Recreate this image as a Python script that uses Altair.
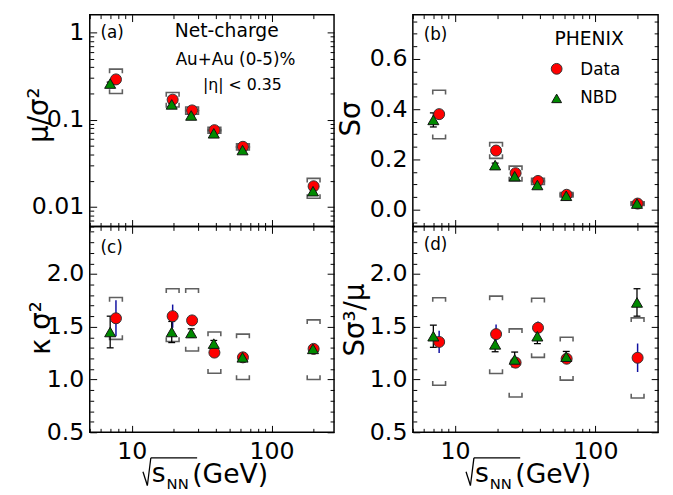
import altair as alt
import pandas as pd

# ---------------- data ----------------
energy = [7.7, 19.6, 27.0, 39.0, 62.4, 200.0]
energy_nbd = [7.0, 19.3, 26.6, 38.6, 62.0, 198.0]

# (a) mu / sigma^2
a_data = [0.29, 0.17, 0.128, 0.076, 0.049, 0.0173]
a_data_err = [0.012, 0.006, 0.004, 0.002, 0.0012, 0.0008]
a_nbd = [0.26, 0.15, 0.112, 0.070, 0.045, 0.0152]
a_nbd_err = [0.01, 0.005, 0.003, 0.002, 0.001, 0.0006]
a_sys_lo = [0.20, 0.14, 0.116, 0.070, 0.045, 0.0126]
a_sys_hi = [0.38, 0.205, 0.140, 0.082, 0.053, 0.0213]

# (b) S sigma
b_data = [0.38, 0.235, 0.145, 0.114, 0.059, 0.024]
b_data_err = [0.02, 0.01, 0.008, 0.006, 0.004, 0.004]
b_nbd = [0.357, 0.177, 0.133, 0.098, 0.055, 0.024]
b_nbd_err = [0.028, 0.008, 0.006, 0.005, 0.003, 0.003]
b_sys_lo = [0.282, 0.204, 0.114, 0.100, 0.050, 0.018]
b_sys_hi = [0.475, 0.267, 0.173, 0.125, 0.068, 0.030]

# (c) kappa sigma^2
c_data = [1.58, 1.60, 1.56, 1.255, 1.21, 1.29]
c_data_err = [0.17, 0.11, 0.05, 0.04, 0.03, 0.03]
c_nbd = [1.45, 1.45, 1.44, 1.34, 1.21, 1.29]
c_nbd_err = [0.15, 0.10, 0.04, 0.03, 0.02, 0.02]
c_sys_lo = [1.38, 1.36, 1.27, 1.06, 1.00, 1.00]
c_sys_hi = [1.777, 1.86, 1.86, 1.45, 1.43, 1.565]

# (d) S sigma^3 / mu
d_data = [1.356, 1.43, 1.16, 1.49, 1.197, 1.206]
d_data_err = [0.105, 0.09, 0.05, 0.06, 0.05, 0.135]
d_nbd = [1.41, 1.333, 1.19, 1.41, 1.216, 1.73]
d_nbd_err = [0.105, 0.07, 0.07, 0.07, 0.05, 0.13]
d_sys_lo = [0.946, 1.057, 0.835, 1.21, 0.994, 0.825]
d_sys_hi = [1.775, 1.79, 1.48, 1.77, 1.40, 1.584]

x_domain = [5, 280]
x_major = [10, 100]
x_minor = [5, 6, 7, 8, 9, 20, 30, 40, 50, 60, 70, 80, 90, 200]

FONT = "DejaVu Sans"
RED = "#ff0000"
GREEN = "#008a00"
TOP_CAP = "M-1,0.65L-1,0L1,0L1,0.65"
BOT_CAP = "M-1,-0.65L-1,0L1,0L1,-0.65"
HCAP = "M-1,0L1,0"
ONE = pd.DataFrame({"k": [0]})


def frame(d, de, n, ne, slo, shi):
    return pd.DataFrame({
        "x": energy, "xn": energy_nbd,
        "d": d, "d_lo": [v - e for v, e in zip(d, de)], "d_hi": [v + e for v, e in zip(d, de)],
        "n": n, "n_lo": [v - e for v, e in zip(n, ne)], "n_hi": [v + e for v, e in zip(n, ne)],
        "s_lo": slo, "s_hi": shi,
    })


def txt(s, x, y, size, align="left", baseline="middle", angle=0):
    kw = dict(text=s, fontSize=size, align=align, baseline=baseline, font=FONT, color="black")
    if angle:
        kw["angle"] = angle
    return alt.Chart(ONE).mark_text(**kw).encode(x=alt.value(x), y=alt.value(y))


def seg(x1, y1, x2, y2):
    return alt.Chart(ONE).mark_rule(color="black", strokeWidth=1.3).encode(
        x=alt.value(x1), y=alt.value(y1), x2=alt.value(x2), y2=alt.value(y2))


AX = dict(grid=False, domain=False, tickColor="black", tickWidth=1, labelFont=FONT,
          labelFontSize=24, labelColor="black", title=None, labelFlush=False, labelOverlap=False)

MAJ, MIN = 7, 4


def panel(df, ydom, ylog, ymaj, ymin, yfmt, w, h, xlabels, extras):
    xs = alt.Scale(type="log", domain=x_domain, nice=False)
    if ylog:
        ys = alt.Scale(type="log", domain=ydom, nice=False)
    else:
        ys = alt.Scale(type="linear", domain=ydom, nice=False, zero=False)
    base = alt.Chart(df)
    X = alt.X("x:Q", scale=xs, axis=None)
    XN = alt.X("xn:Q", scale=xs, axis=None)

    def Y(f):
        return alt.Y(f + ":Q", scale=ys, axis=None)

    layers = []
    # axis layers (inward ticks on all four sides)
    specs = [
        (dict(orient="bottom", values=x_major, tickSize=MAJ, offset=-MAJ, labels=xlabels, format="~g",
              labelPadding=8),
         dict(orient="left", values=ymaj, tickSize=MAJ, offset=-MAJ, format=yfmt, labelPadding=6)),
        (dict(orient="bottom", values=x_minor, tickSize=MIN, offset=-MIN, labels=False),
         dict(orient="left", values=ymin, tickSize=MIN, offset=-MIN, labels=False)),
        (dict(orient="top", values=x_major, tickSize=MAJ, offset=-MAJ, labels=False),
         dict(orient="right", values=ymaj, tickSize=MAJ, offset=-MAJ, labels=False)),
        (dict(orient="top", values=x_minor, tickSize=MIN, offset=-MIN, labels=False),
         dict(orient="right", values=ymin, tickSize=MIN, offset=-MIN, labels=False)),
    ]
    for xa, ya in specs:
        layers.append(base.mark_point(opacity=0).encode(
            x=alt.X("x:Q", scale=xs, axis=alt.Axis(**xa, **AX)),
            y=alt.Y("d:Q", scale=ys, axis=alt.Axis(**ya, **AX))))

    # systematic brackets
    layers.append(base.mark_point(shape=TOP_CAP, filled=False, size=169, color="#606060",
                                  strokeWidth=1.6, opacity=1).encode(x=X, y=Y("s_hi")))
    layers.append(base.mark_point(shape=BOT_CAP, filled=False, size=169, color="#606060",
                                  strokeWidth=1.6, opacity=1).encode(x=X, y=Y("s_lo")))
    # statistical errors
    layers.append(base.mark_rule(color="#1010a0", strokeWidth=1.5).encode(x=X, y=Y("d_lo"), y2="d_hi"))
    layers.append(base.mark_rule(color="black", strokeWidth=1.3).encode(x=XN, y=Y("n_lo"), y2="n_hi"))
    for f in ["n_lo", "n_hi"]:
        layers.append(base.mark_point(shape=HCAP, filled=False, size=49, color="black",
                                      strokeWidth=1.3, opacity=1).encode(x=XN, y=Y(f)))
    # markers
    layers.append(base.mark_point(shape="circle", filled=True, fill=RED, stroke="#333333",
                                  strokeWidth=1, size=125, opacity=1).encode(x=X, y=Y("d")))
    layers.append(base.mark_point(shape="triangle-up", filled=True, fill=GREEN, stroke="#111111",
                                  strokeWidth=1, size=125, opacity=1).encode(x=XN, y=Y("n")))
    layers += extras
    return alt.layer(*layers).properties(width=w, height=h).resolve_axis(x="independent", y="independent")


def xtitle():
    return [
        seg(54, 249, 58.5, 263),
        seg(58.5, 263, 62, 235),
        seg(62, 235, 109, 235),
        txt("s", 63, 259, 27, baseline="alphabetic"),
        txt("NN", 78, 267, 15, baseline="alphabetic"),
        txt("(GeV)", 104, 260, 27, baseline="alphabetic"),
    ]


log_minor = [0.006, 0.007, 0.008, 0.009] + [k / 100 for k in range(2, 10)] + [k / 10 for k in range(2, 10)]
lin_b_minor = [v / 100 for v in range(-5, 78, 5) if v % 20 != 0]
lin_cd_minor = [v / 10 for v in range(5, 25) if v % 5 != 0]

pa = panel(frame(a_data, a_data_err, a_nbd, a_nbd_err, a_sys_lo, a_sys_hi),
           [0.006, 1.6], True, [0.01, 0.1, 1], log_minor, "~g", 248, 215, False,
           [txt("(a)", 11, 19, 17), txt("Net-charge", 139, 17, 19, align="center"),
            txt("Au+Au (0-5)%", 148, 46, 17, align="center"),
            txt("|\u03b7| < 0.35", 155, 71, 16, align="center"),
            txt("\u03bc/\u03c3\u00b2", -42, 102, 28, align="center", baseline="alphabetic", angle=270)])

legend_b = [
    alt.Chart(ONE).mark_point(shape="circle", filled=True, fill=RED, stroke="#333333",
                              strokeWidth=1, size=120, opacity=1).encode(x=alt.value(146), y=alt.value(55)),
    alt.Chart(ONE).mark_point(shape="triangle-up", filled=True, fill=GREEN, stroke="#111111",
                              strokeWidth=1, size=100, opacity=1).encode(x=alt.value(146), y=alt.value(85)),
    txt("Data", 170, 56, 17), txt("NBD", 170, 85, 17),
    txt("PHENIX", 179, 25, 19, align="center"),
]

pb = panel(frame(b_data, b_data_err, b_nbd, b_nbd_err, b_sys_lo, b_sys_hi),
           [-0.067, 0.776], False, [0.0, 0.2, 0.4, 0.6], lin_b_minor, ".1f", 249, 215, False,
           [txt("(b)", 11, 21, 17),
            txt("S\u03c3", -54, 106, 28, align="center", baseline="alphabetic", angle=270)] + legend_b)

pc = panel(frame(c_data, c_data_err, c_nbd, c_nbd_err, c_sys_lo, c_sys_hi),
           [0.5, 2.45], False, [0.5, 1.0, 1.5, 2.0], lin_cd_minor, ".1f", 248, 209, True,
           [txt("(c)", 11, 22, 17),
            txt("\u03ba \u03c3\u00b2", -40, 103, 28, align="center", baseline="alphabetic", angle=270)]
           + xtitle())

pd_ = panel(frame(d_data, d_data_err, d_nbd, d_nbd_err, d_sys_lo, d_sys_hi),
            [0.5, 2.45], False, [0.5, 1.0, 1.5, 2.0], lin_cd_minor, ".1f", 249, 209, True,
            [txt("(d)", 11, 19, 17),
             txt("S\u03c3\u00b3/\u03bc", -50, 95, 28, align="center", baseline="alphabetic", angle=270)]
            + xtitle())

chart = alt.concat(pa, pb, pc, pd_, columns=2, spacing={"row": 0, "column": 80}, bounds="flush").properties(
    padding={"left": 18, "top": 1, "right": 5, "bottom": 5}, background="white"
).configure(font=FONT).configure_view(stroke="black", strokeWidth=1.5)

chart.save("out.html", embed_options={"renderer": "svg", "actions": False})
